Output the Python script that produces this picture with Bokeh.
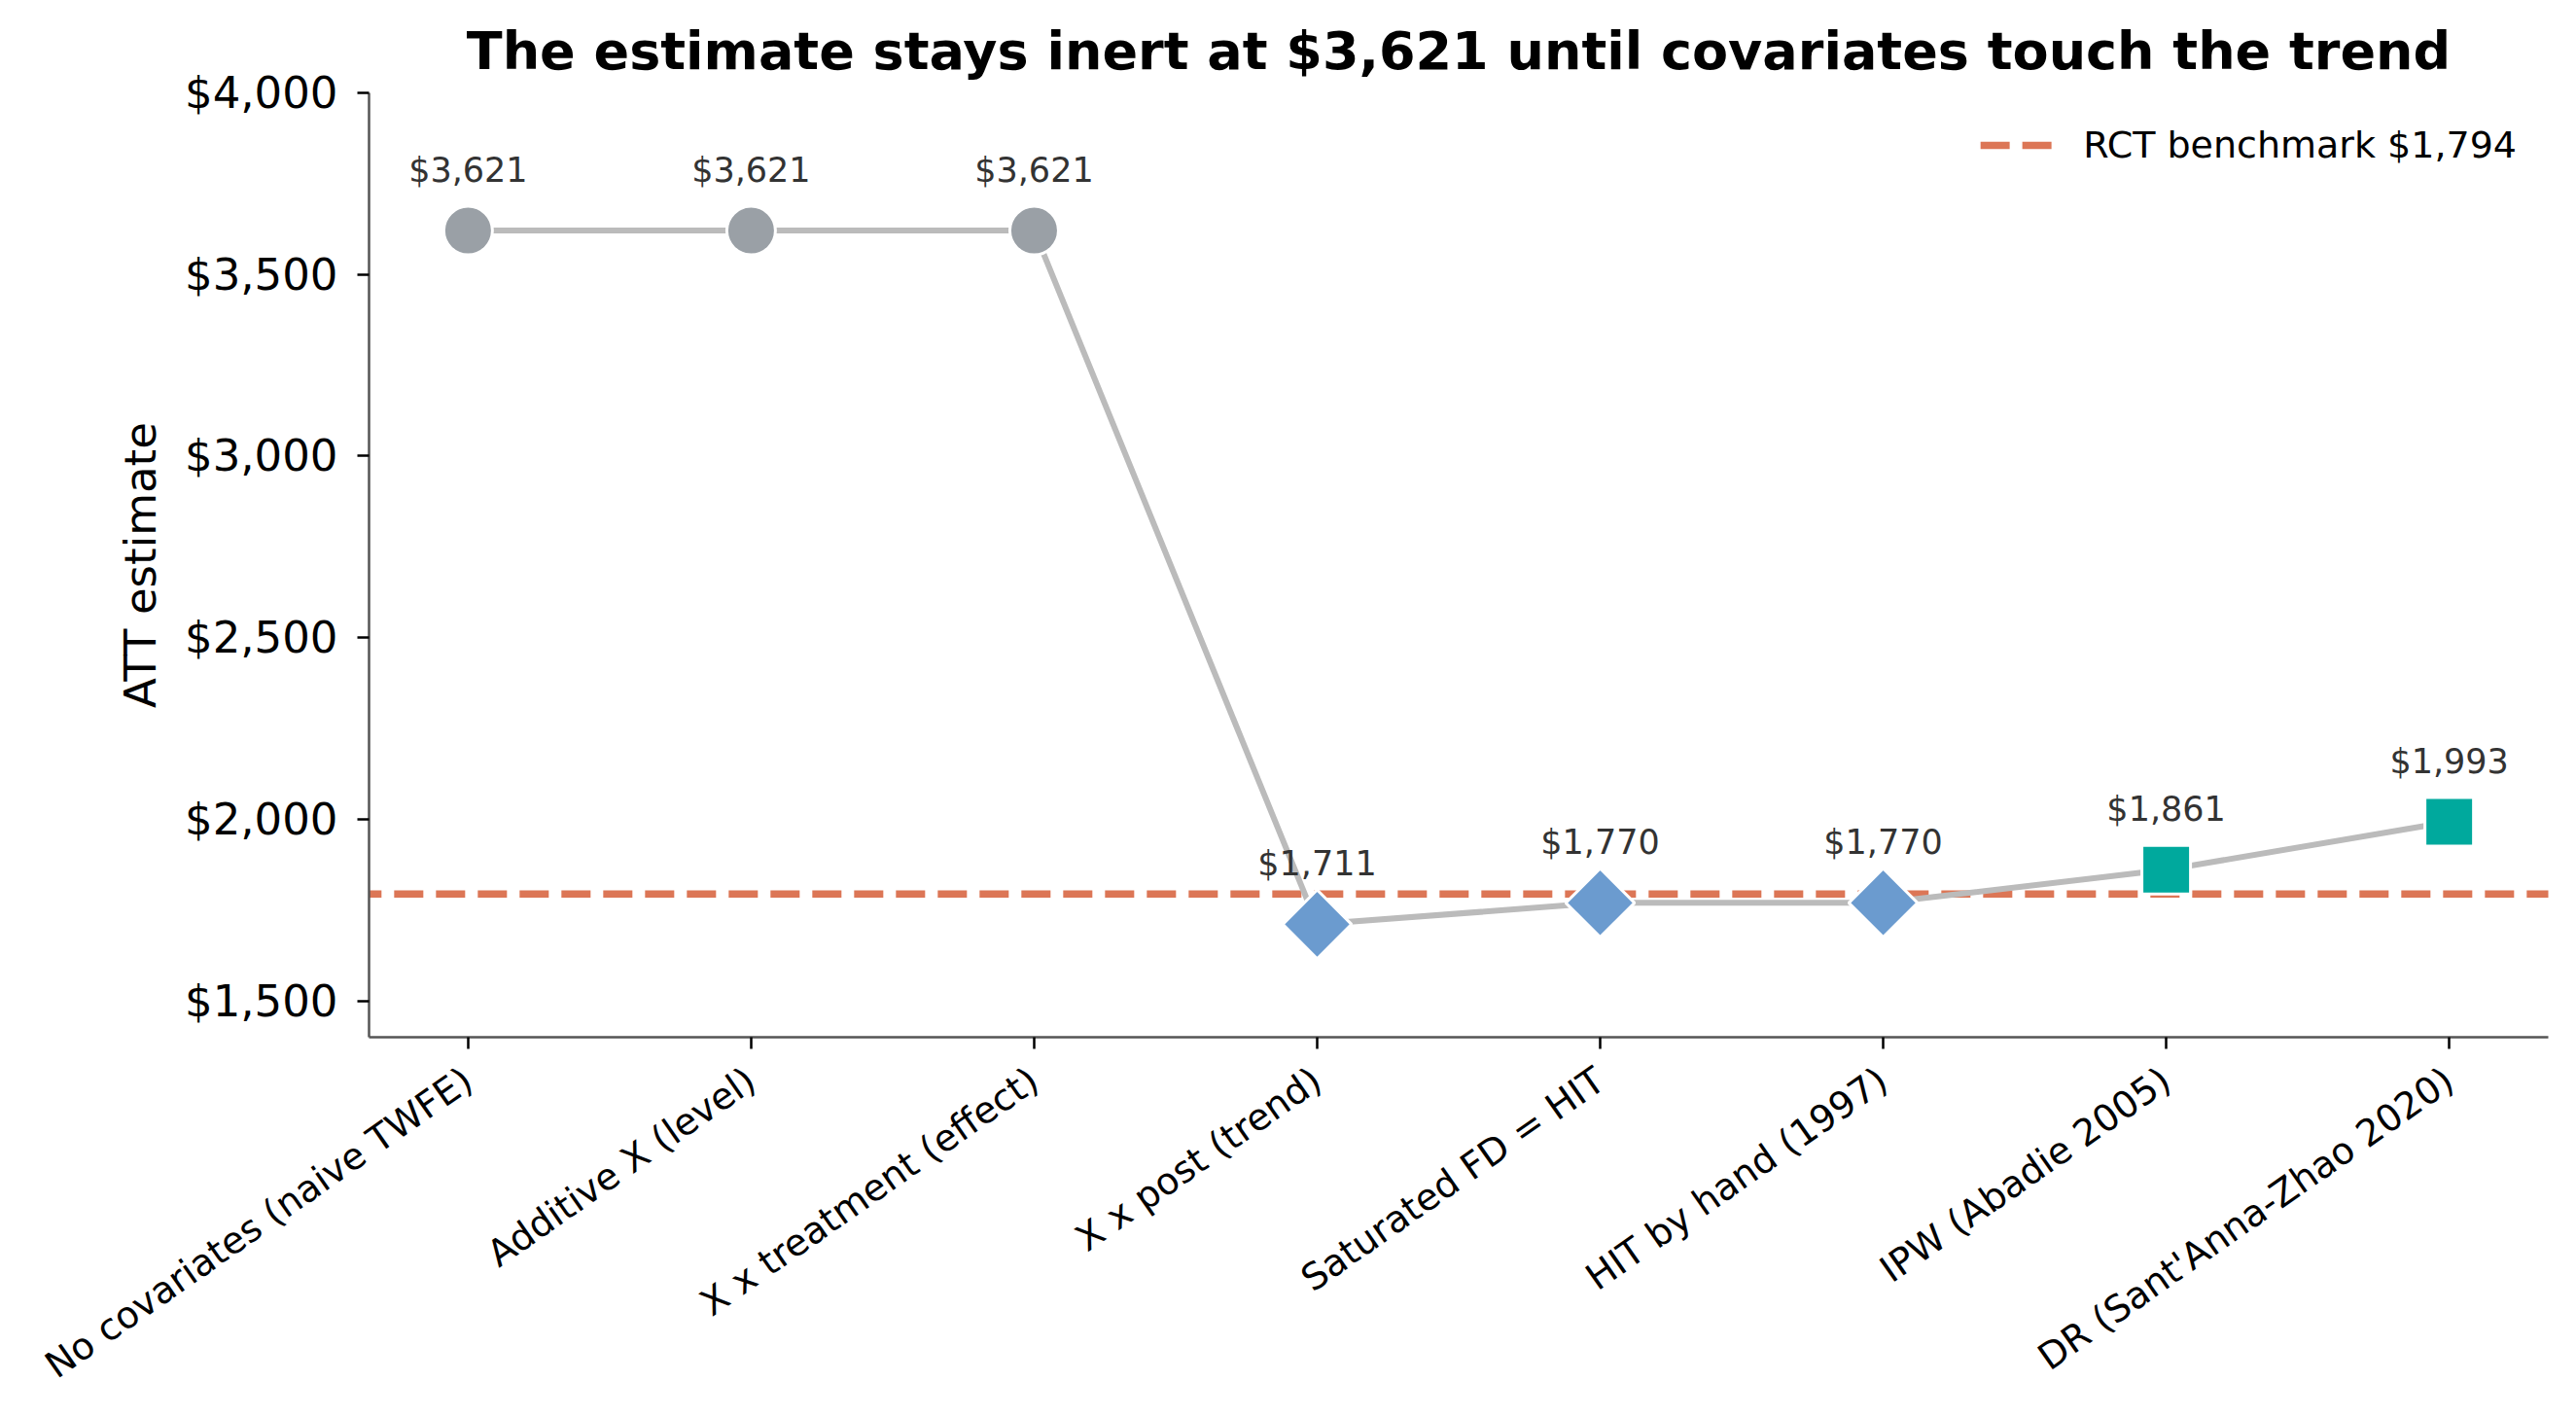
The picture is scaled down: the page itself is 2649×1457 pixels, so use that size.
import math
from bokeh.plotting import figure
from bokeh.models import (Range1d, FixedTicker, NumeralTickFormatter,
                          ColumnDataSource, Legend, LegendItem)
from bokeh.embed import file_html
from bokeh.resources import INLINE
from bokeh.core.properties import value

# ---- data ----
methods = [
    "No covariates (naive TWFE)",
    "Additive X (level)",
    "X x treatment (effect)",
    "X x post (trend)",
    "Saturated FD = HIT",
    "HIT by hand (1997)",
    "IPW (Abadie 2005)",
    "DR (Sant'Anna-Zhao 2020)",
]
att = [3621, 3621, 3621, 1711, 1770, 1770, 1861, 1993]
family = ["inert", "inert", "inert", "trend", "trend", "trend", "weight", "weight"]
rct_benchmark = 1794
y_ticks = [1500, 2000, 2500, 3000, 3500, 4000]

FONT = "DejaVu Sans"
ORANGE = "#dc7656"
styles = {
    "inert": dict(marker="circle", color="#9aa0a6", angle=0.0),
    "trend": dict(marker="square", color="#6b9bcf", angle=math.pi / 4),
    "weight": dict(marker="square", color="#00a99d", angle=0.0),
}

xs = list(range(len(methods)))
labels = [f"${v:,.0f}" for v in att]

p = figure(width=2649, height=1457, output_backend="svg", toolbar_location=None,
           x_range=Range1d(-0.35, 7.35), y_range=Range1d(1400, 4000),
           min_border_left=379, min_border_right=29, min_border_top=95,
           min_border_bottom=391, background_fill_color="white",
           border_fill_color="white")
p.outline_line_color = None
p.xgrid.visible = False
p.ygrid.visible = False

# title
p.title.text = "The estimate stays inert at $3,621 until covariates touch the trend"
p.title.align = "center"
p.title.text_font = FONT
p.title.text_font_size = "54px"
p.title.text_font_style = "bold"
p.title.text_color = "black"
p.title.standoff = 23

# benchmark line (spans whole x range; clipped by the frame)
bench = p.line([xs[0] - 1, xs[-1] + 1], [rct_benchmark, rct_benchmark],
               line_color=ORANGE, line_width=7.5, line_dash="30 13")
bench.level = "underlay"

# connecting line
p.line(xs, att, line_color="#bbbbbb", line_width=6)

# markers
for fam, st in styles.items():
    idx = [i for i, f in enumerate(family) if f == fam]
    src = ColumnDataSource(dict(x=[xs[i] for i in idx], y=[att[i] for i in idx]))
    p.scatter("x", "y", source=src, marker=st["marker"], size=50, angle=st["angle"],
              fill_color=st["color"], line_color="white", line_width=3)

# value labels
p.text(xs, att, text=labels, text_align="center", text_baseline="alphabetic",
       y_offset=-62, text_font_size="35px", text_color="#333333",
       text_font=value(FONT))

# legend
legend = Legend(items=[LegendItem(label=f"RCT benchmark ${rct_benchmark:,}", renderers=[bench])],
                location="top_right", border_line_alpha=0, background_fill_alpha=0,
                label_text_font=FONT, label_text_font_size="38px",
                label_text_color="black",
                glyph_width=76, glyph_height=40, label_height=40,
                label_standoff=30, margin=0, padding=32)
p.add_layout(legend)

# axes
for ax in (p.xaxis[0], p.yaxis[0]):
    ax.axis_line_color = "#555555"
    ax.axis_line_width = 2.5
    ax.major_tick_line_color = "black"
    ax.major_tick_line_width = 2.5
    ax.major_tick_out = 12
    ax.major_tick_in = 0
    ax.minor_tick_line_color = None
    ax.major_label_text_font = FONT
    ax.major_label_text_color = "black"

p.xaxis.ticker = FixedTicker(ticks=xs)
p.xaxis.major_label_overrides = {i: m for i, m in enumerate(methods)}
p.xaxis.major_label_orientation = math.radians(35)
p.xaxis.major_label_text_font_size = "38px"
p.xaxis.major_label_standoff = 28

p.yaxis.ticker = FixedTicker(ticks=y_ticks)
p.yaxis.formatter = NumeralTickFormatter(format="$0,0")
p.yaxis.major_label_text_font_size = "45px"
p.yaxis.major_label_standoff = 20
p.yaxis.axis_label = "ATT estimate"
p.yaxis.axis_label_text_font = FONT
p.yaxis.axis_label_text_font_size = "45px"
p.yaxis.axis_label_text_font_style = "normal"
p.yaxis.axis_label_text_color = "black"
p.yaxis.axis_label_standoff = 16

open("out.html", "w").write(file_html(p, INLINE))
